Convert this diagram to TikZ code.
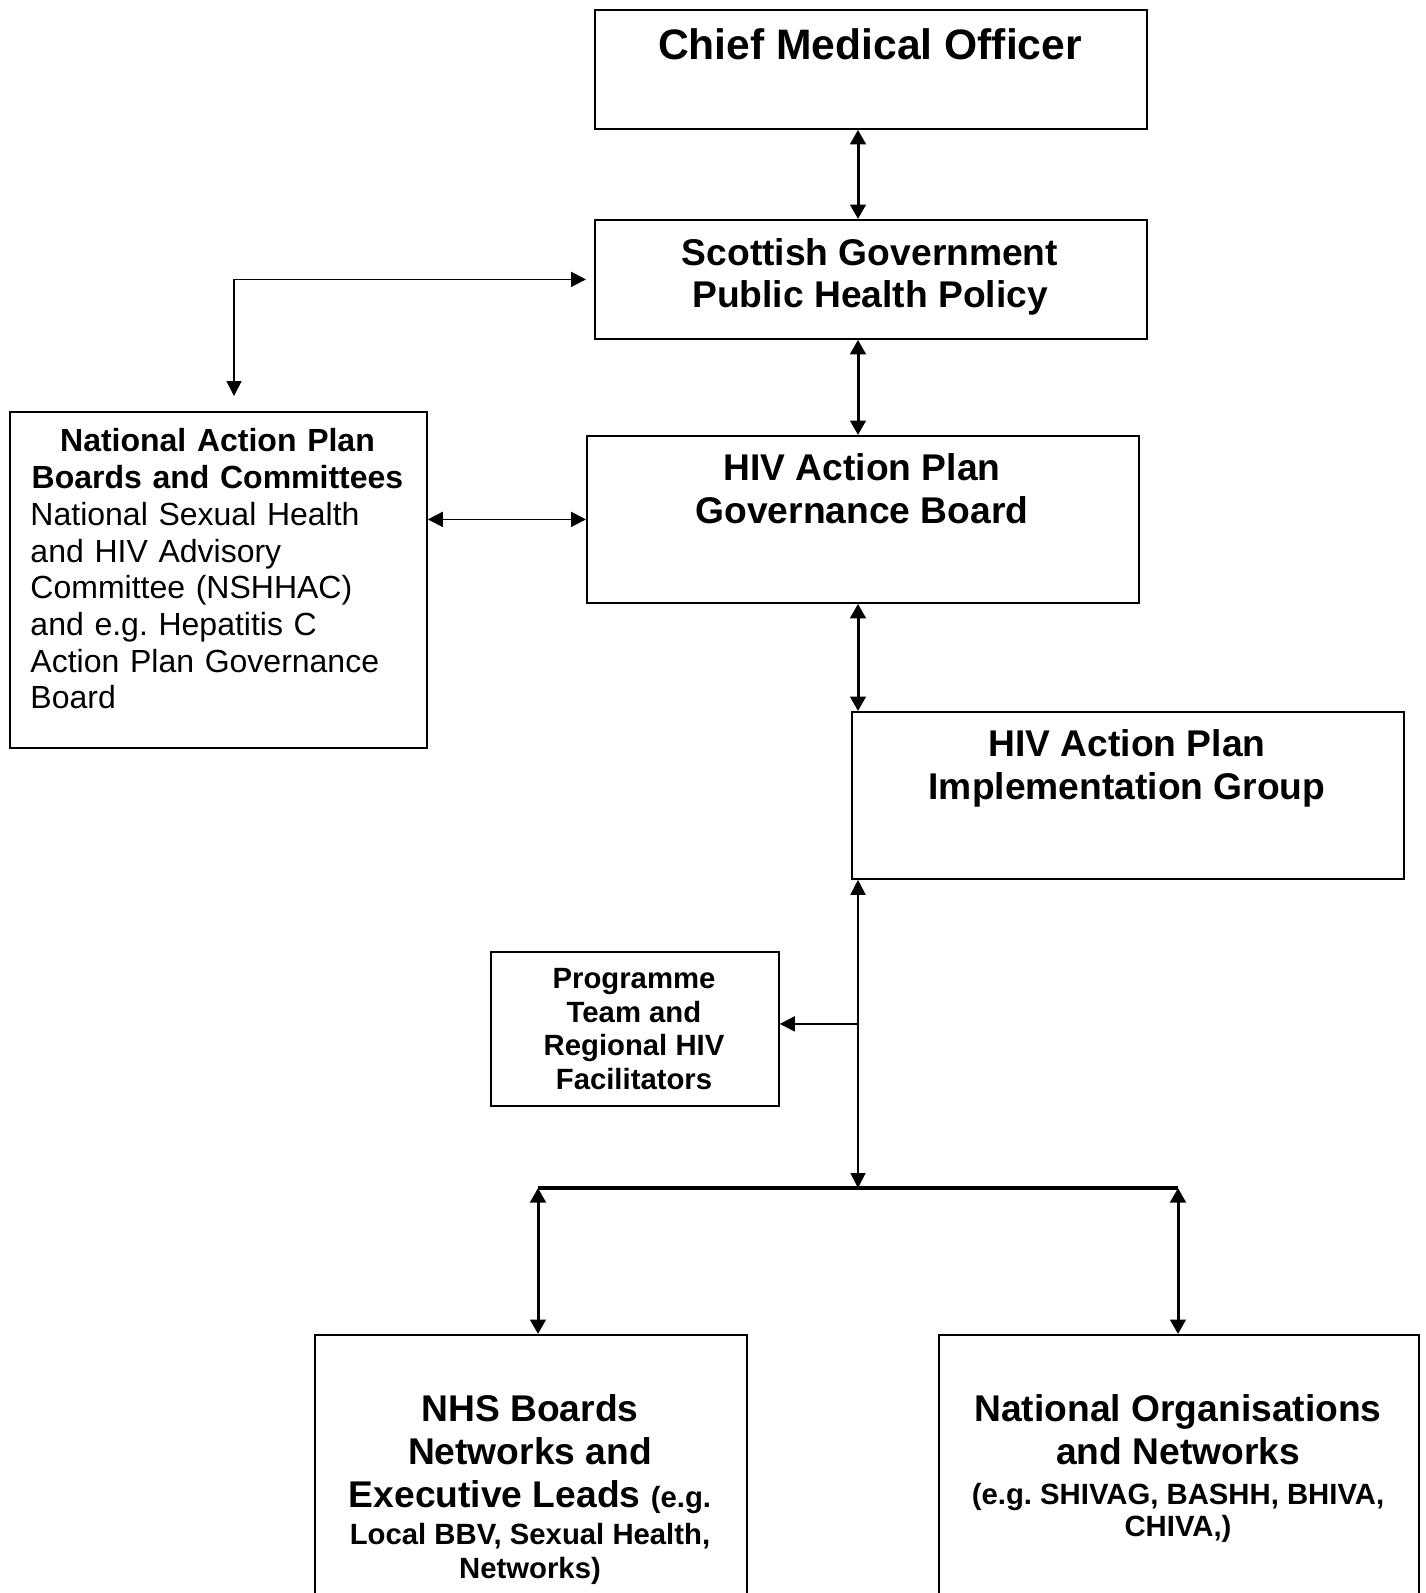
\documentclass[tikz,border=0pt]{standalone}
\usepackage{fontspec}
\setmainfont{Liberation Sans}
\usetikzlibrary{arrows.meta,positioning}
\frenchspacing

\newcommand\minortext[1]{{\fontsize{29.3}{33.5}\selectfont #1}}

\begin{document}
\begin{tikzpicture}[x=1pt,y=-1pt,
    orgbox/.style={draw, line width=1.8pt, inner sep=0pt, anchor=north west},
    headtext/.style={font=\fontsize{37.2}{42.7}\selectfont\bfseries, align=center, inner sep=0pt},
    heavylink/.style={line width=3pt, {Triangle[length=14.5pt,width=15.5pt]}-{Triangle[length=14.5pt,width=15.5pt]}},
    lightlink/.style={line width=1.8pt, {Triangle[length=15pt,width=15pt]}-{Triangle[length=15pt,width=15pt]}},
    busline/.style={line width=4pt}]
    \useasboundingbox (0,0) rectangle (1426,1593);
    \clip (0,0) rectangle (1426,1593);
    % boxes
    \node[orgbox, minimum width=552pt, minimum height=119pt] (cmo) at (594,9) {};
    \node[orgbox, minimum width=552pt, minimum height=119pt] (sg) at (594,219) {};
    \node[orgbox, minimum width=552pt, minimum height=167pt] (gov) at (586,435) {};
    \node[orgbox, minimum width=552pt, minimum height=167pt] (impl) at (851,711) {};
    \node[orgbox, minimum width=417pt, minimum height=336pt] (nap) at (9,411) {};
    \node[orgbox, minimum width=288pt, minimum height=154pt] (prog) at (490,951) {};
    \node[orgbox, minimum width=432pt, minimum height=300pt] (nhs) at (314,1334) {};
    \node[orgbox, minimum width=480pt, minimum height=300pt] (norg) at (938,1334) {};
    % texts
    \node[inner sep=0pt, font=\fontsize{42.6}{49}\selectfont\bfseries] (cmotext) at (870,44.5) {Chief Medical Officer};
    \node[headtext] (sgtext) at (870,277) {Scottish Government\\ Public Health Policy};
    \node[headtext] (govtext) at (862,489) {HIV Action Plan\\ Governance Board};
    \node[headtext] (impltext) at (1127,768.5) {HIV Action Plan\\ Implementation Group};
    \node[text width=374pt, inner sep=0pt, font=\fontsize{32}{36.7}\selectfont] (naptext) at (217.5,569)
        {\parindent=0pt\centering\bfseries National Action Plan\\ Boards and Committees\par
         \raggedright\mdseries National Sexual Health\\ and HIV Advisory\\ Committee (NSHHAC)\\
         and e.g. Hepatitis C\\ Action Plan Governance\\ Board\par};
    \node[inner sep=0pt, align=center, font=\fontsize{29.3}{33.5}\selectfont\bfseries] (progtext) at (634,1029)
        {Programme\\ Team and\\ Regional HIV\\ Facilitators};
    \node[headtext] (nhstext) at (530,1489.5)
        {NHS Boards\\ Networks and\\ Executive Leads \minortext{(e.g.}\\[-5.1pt]
         \minortext{Local BBV, Sexual Health,}\\[-9.2pt] \minortext{Networks)}};
    \node[headtext] (norgtext) at (1178,1468.7)
        {National Organisations\\ and Networks\\[-3.1pt]
         \minortext{(e.g. SHIVAG, BASHH, BHIVA,}\\[-10.2pt] \minortext{CHIVA,)}};
    % connectors
    \coordinate (spine) at (858,650);
    \coordinate (napin) at (234,396);
    \coordinate (sgin) at ([xshift=-8pt]sg.west);
    \coordinate (busleft) at (538,1188);
    \coordinate (busright) at (1178,1188);
    \draw[heavylink] (cmo.south -| spine) -- (sg.north -| spine);
    \draw[heavylink] (sg.south -| spine) -- (gov.north -| spine);
    \draw[heavylink] (gov.south -| spine) -- (impl.north -| spine);
    \draw[lightlink] (napin) |- (sgin);
    \draw[lightlink] (nap.east |- gov.west) -- (gov.west);
    \draw[lightlink] (impl.south -| spine) -- (busleft -| spine);
    \draw[line width=1.8pt, -{Triangle[length=15pt,width=15pt]}] ([yshift=5pt]prog.east -| spine) -- ([yshift=5pt]prog.east);
    \draw[busline] (busleft) -- (busright);
    \draw[heavylink] (busleft) -- (nhs.north -| busleft);
    \draw[heavylink] (busright) -- (norg.north -| busright);
\end{tikzpicture}
\end{document}
